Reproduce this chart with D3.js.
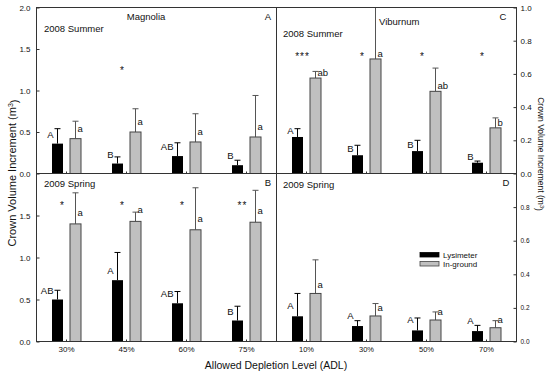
<!DOCTYPE html>
<html>
<head>
<meta charset="utf-8">
<script src="https://cdn.jsdelivr.net/npm/d3@7"></script>
<style>
  body { margin: 0; background: #fff; }
  text { font-family: Arial, "Liberation Sans", sans-serif; fill: #111; }
</style>
</head>
<body>
<script>
// categories
const magAdl = ["30%", "45%", "60%", "75%"];
const vibAdl = ["10%", "30%", "50%", "70%"];
const series = ["Lysimeter", "In-ground"];

// Magnolia, 2008 summer
const magSumLys = [0.36, 0.12, 0.21, 0.10];
const magSumLysSe = [0.18, 0.08, 0.16, 0.06];
const magSumIng = [0.42, 0.50, 0.38, 0.44];
const magSumIngSe = [0.21, 0.28, 0.34, 0.50];
const magSumLysLet = ["A", "B", "AB", "B"];
const magSumIngLet = ["a", "a", "a", "a"];
const magSumStars = ["", "*", "", ""];

// Viburnum, 2008 summer
const vibSumLys = [0.22, 0.11, 0.135, 0.065];
const vibSumLysSe = [0.05, 0.06, 0.065, 0.01];
const vibSumIng = [0.575, 0.69, 0.495, 0.275];
const vibSumIngSe = [0.04, 0.40, 0.14, 0.06];
const vibSumLysLet = ["A", "B", "B", "B"];
const vibSumIngLet = ["ab", "a", "ab", "b"];
const vibSumStars = ["***", "*", "*", "*"];

// Magnolia, 2009 spring
const magSprLys = [0.50, 0.73, 0.455, 0.25];
const magSprLysSe = [0.11, 0.33, 0.14, 0.17];
const magSprIng = [1.40, 1.43, 1.33, 1.42];
const magSprIngSe = [0.37, 0.11, 0.50, 0.38];
const magSprLysLet = ["AB", "A", "AB", "B"];
const magSprIngLet = ["a", "a", "a", "a"];
const magSprStars = ["*", "*", "*", "**"];

// Viburnum, 2009 spring
const vibSprLys = [0.15, 0.092, 0.066, 0.062];
const vibSprLysSe = [0.136, 0.032, 0.074, 0.034];
const vibSprIng = [0.286, 0.152, 0.128, 0.082];
const vibSprIngSe = [0.20, 0.074, 0.048, 0.042];
const vibSprLysLet = ["A", "A", "A", "A"];
const vibSprIngLet = ["a", "a", "a", "a"];
const vibSprStars = ["", "", "", ""];

// tick labels
const leftTopTicks = [0, 0.5, 1.0, 1.5, 2.0];
const leftBotTicks = [0, 0.5, 1.0, 1.5];
const rightTopTicks = [0, 0.2, 0.4, 0.6, 0.8, 1.0];
const rightBotTicks = [0, 0.2, 0.4, 0.6, 0.8];

// frame
const width = 550, height = 375;
const fLeft = 36.5, fMid = 276.5, fRight = 516.5;
const fTop = 7.5, fMidY = 173.5, fBottom = 341.5;

const svg = d3.select("body").append("svg")
    .attr("width", width)
    .attr("height", height);

const defs = svg.append("defs");

const panels = [
  {id: "A", cats: magAdl, lys: magSumLys, lysSe: magSumLysSe, ing: magSumIng, ingSe: magSumIngSe,
   lysLet: magSumLysLet, ingLet: magSumIngLet, stars: magSumStars, starAt: 1.27,
   xr: [fLeft, fMid], yr: [fMidY, fTop], yMax: 2, side: "left", ticks: leftTopTicks, tickFont: 8,
   lysDy: -6, ingDy: -7, bottomLabels: false},
  {id: "C", cats: vibAdl, lys: vibSumLys, lysSe: vibSumLysSe, ing: vibSumIng, ingSe: vibSumIngSe,
   lysLet: vibSumLysLet, ingLet: vibSumIngLet, stars: vibSumStars, starAt: 0.72,
   xr: [fMid, fRight], yr: [fMidY, fTop], yMax: 1, side: "right", ticks: rightTopTicks, tickFont: 8,
   lysDy: -3, ingDy: -2, bottomLabels: false},
  {id: "B", cats: magAdl, lys: magSprLys, lysSe: magSprLysSe, ing: magSprIng, ingSe: magSprIngSe,
   lysLet: magSprLysLet, ingLet: magSprIngLet, stars: magSprStars, starAt: 1.64,
   xr: [fLeft, fMid], yr: [fBottom, fMidY], yMax: 2, side: "left", ticks: leftBotTicks, tickFont: 8,
   lysDy: -6, ingDy: -8, bottomLabels: true, xFont: 8},
  {id: "D", cats: vibAdl, lys: vibSprLys, lysSe: vibSprLysSe, ing: vibSprIng, ingSe: vibSprIngSe,
   lysLet: vibSprLysLet, ingLet: vibSprIngLet, stars: vibSprStars, starAt: 0.7,
   xr: [fMid, fRight], yr: [fBottom, fMidY], yMax: 1, side: "right", ticks: rightBotTicks, tickFont: 6.5,
   lysDy: -7, ingDy: -5, bottomLabels: true, xFont: 7.5}
];

panels.forEach(function(p){
    let x0 = d3.scaleBand().domain(p.cats).range(p.xr);
    let x1 = d3.scaleBand().domain(series).range([-14.5, 14.5]).paddingInner(0.389);
    let y = d3.scaleLinear().domain([0, p.yMax]).range(p.yr);
    let cx = function(c){ return x0(c) + x0.bandwidth() / 2; };

    // clip so long error bars stop at the panel edge
    defs.append("clipPath").attr("id", "clip" + p.id)
        .append("rect")
        .attr("x", p.xr[0]).attr("y", p.yr[1])
        .attr("width", p.xr[1] - p.xr[0]).attr("height", p.yr[0] - p.yr[1]);

    let g = svg.append("g").attr("clip-path", "url(#clip" + p.id + ")");

    let sets = [
      {s: "Lysimeter", vals: p.lys, se: p.lysSe, fill: "#000", stroke: "#000", err: "#000"},
      {s: "In-ground", vals: p.ing, se: p.ingSe, fill: "#c0c0c0", stroke: "#444", err: "#555"}
    ];

    sets.forEach(function(d){
        let rows = p.cats.map(function(c, i){ return {c: c, v: d.vals[i], e: d.se[i]}; });
        let bx = function(r){ return cx(r.c) + x1(d.s); };
        let mx = function(r){ return bx(r) + x1.bandwidth() / 2; };

        // error whiskers
        g.selectAll(null).data(rows).enter().append("line")
            .attr("x1", mx).attr("x2", mx)
            .attr("y1", function(r){ return y(r.v); })
            .attr("y2", function(r){ return y(r.v + r.e); })
            .attr("stroke", d.err).attr("stroke-width", 1);
        g.selectAll(null).data(rows).enter().append("line")
            .attr("x1", function(r){ return mx(r) - 3; })
            .attr("x2", function(r){ return mx(r) + 3; })
            .attr("y1", function(r){ return y(r.v + r.e); })
            .attr("y2", function(r){ return y(r.v + r.e); })
            .attr("stroke", d.err).attr("stroke-width", 1);

        g.selectAll(null).data(rows).enter().append("rect")
            .attr("x", bx)
            .attr("y", function(r){ return y(r.v); })
            .attr("width", x1.bandwidth())
            .attr("height", function(r){ return y(0) - y(r.v); })
            .attr("fill", d.fill)
            .attr("stroke", d.stroke)
            .attr("stroke-width", d.s === "Lysimeter" ? 0 : 1);
    });

    // significance letters
    svg.selectAll(null).data(p.cats).enter().append("text")
        .attr("x", function(c){ return cx(c) + x1("Lysimeter") + 1.5; })
        .attr("y", function(c, i){ return y(p.lys[i]) + p.lysDy; })
        .attr("text-anchor", "end")
        .style("font-size", "9.5px")
        .text(function(c, i){ return p.lysLet[i]; });
    svg.selectAll(null).data(p.cats).enter().append("text")
        .attr("x", function(c){ return cx(c) + x1("In-ground") + x1.bandwidth() / 2 + 2; })
        .attr("y", function(c, i){ return y(p.ing[i]) + p.ingDy; })
        .style("font-size", "9.5px")
        .text(function(c, i){ return p.ingLet[i]; });

    // stars
    svg.selectAll(null).data(p.cats).enter().append("text")
        .attr("x", function(c){ return cx(c) - 4; })
        .attr("y", y(p.starAt) + 5.7)
        .attr("text-anchor", "middle")
        .style("font-size", "10px")
        .style("letter-spacing", "1px")
        .text(function(c, i){ return p.stars[i]; });

    // x ticks
    let xAxis = d3.axisBottom(x0).tickSize(-2).tickPadding(5);
    if (!p.bottomLabels) xAxis.tickFormat("");
    let xg = svg.append("g").attr("transform", "translate(0," + p.yr[0] + ")").call(xAxis);
    xg.select(".domain").remove();
    xg.selectAll("line").attr("stroke", "#333");
    xg.selectAll("text").style("font-size", (p.xFont || 8) + "px")
        .attr("font-family", null).attr("fill", null);

    // y axis
    let yAxis = (p.side === "left" ? d3.axisLeft(y).tickPadding(6) : d3.axisRight(y).tickPadding(4))
        .tickValues(p.ticks).tickSize(-3).tickFormat(d3.format(".1f"));
    let yg = svg.append("g")
        .attr("transform", "translate(" + (p.side === "left" ? fLeft : fRight) + ",0)")
        .call(yAxis);
    yg.select(".domain").remove();
    yg.selectAll("line").attr("stroke", "#333");
    yg.selectAll("text").style("font-size", p.tickFont + "px")
        .attr("font-family", null).attr("fill", null);
});

// frame lines
svg.append("rect")
    .attr("x", fLeft).attr("y", fTop)
    .attr("width", fRight - fLeft).attr("height", fBottom - fTop)
    .attr("fill", "none").attr("stroke", "#333").attr("stroke-width", 1);
svg.append("line").attr("x1", fLeft).attr("x2", fRight).attr("y1", fMidY).attr("y2", fMidY)
    .attr("stroke", "#333");
svg.append("line").attr("x1", fMid).attr("x2", fMid).attr("y1", fTop).attr("y2", fBottom)
    .attr("stroke", "#333");

// panel captions
const captions = [
  {t: "Magnolia", x: 146, y: 19.5, a: "middle"},
  {t: "A", x: 268, y: 19.5, a: "middle"},
  {t: "2008 Summer", x: 44, y: 31.5, a: "start"},
  {t: "2009 Spring", x: 44, y: 186.5, a: "start"},
  {t: "B", x: 268, y: 185.5, a: "middle"},
  {t: "Viburnum", x: 379, y: 25, a: "start"},
  {t: "C", x: 503, y: 20, a: "middle"},
  {t: "2008 Summer", x: 283, y: 37, a: "start"},
  {t: "2009 Spring", x: 283, y: 188, a: "start"},
  {t: "D", x: 506, y: 186, a: "middle"}
];
svg.selectAll(".caption").data(captions).enter().append("text")
    .attr("class", "caption")
    .attr("x", function(d){ return d.x; })
    .attr("y", function(d){ return d.y; })
    .attr("text-anchor", function(d){ return d.a; })
    .style("font-size", "9.5px")
    .text(function(d){ return d.t; });

// legend
const legend = svg.append("g");
series.forEach(function(s, i){
    legend.append("rect")
        .attr("x", 420).attr("y", 252.5 + i * 9)
        .attr("width", 19).attr("height", 4.5)
        .attr("fill", i === 0 ? "#000" : "#c0c0c0")
        .attr("stroke", i === 0 ? "#000" : "#444").attr("stroke-width", 0.8);
    legend.append("text")
        .attr("x", 443).attr("y", 258 + i * 9)
        .style("font-size", "8px")
        .text(s);
});

// axis titles
let yTitle = svg.append("text")
    .attr("transform", "translate(16,173) rotate(-90)")
    .attr("text-anchor", "middle")
    .style("font-size", "11px");
yTitle.append("tspan").text("Crown Volume Increment (m");
yTitle.append("tspan").attr("dy", "-0.45em").style("font-size", "7px").text("3");
yTitle.append("tspan").attr("dy", "0.45em").text(")");

let yTitleR = svg.append("text")
    .attr("transform", "translate(537.5,154) rotate(90)")
    .attr("text-anchor", "middle")
    .style("font-size", "8.5px");
yTitleR.append("tspan").text("Crown Volume Increment (m");
yTitleR.append("tspan").attr("dy", "-0.45em").style("font-size", "5.5px").text("3");
yTitleR.append("tspan").attr("dy", "0.45em").text(")");

svg.append("text")
    .attr("x", 276).attr("y", 369)
    .attr("text-anchor", "middle")
    .style("font-size", "10.5px")
    .text("Allowed Depletion Level (ADL)");
</script>
</body>
</html>
